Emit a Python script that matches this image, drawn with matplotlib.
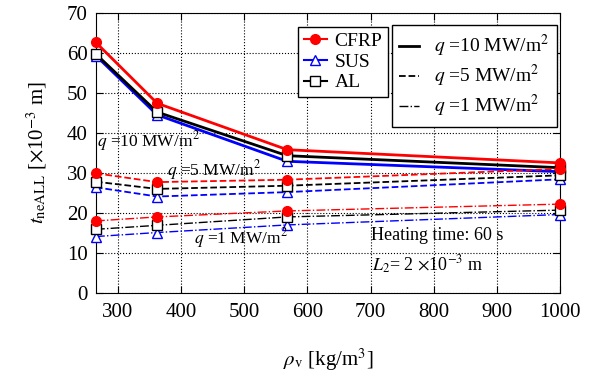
import matplotlib
matplotlib.use("Agg")
import matplotlib.pyplot as plt
from matplotlib.lines import Line2D

plt.rcParams['font.family'] = ['Liberation Serif', 'DejaVu Serif']
plt.rcParams['mathtext.fontset'] = 'stix'

# densities [kg/m3]
rho = [265, 362, 568, 1000]

# t_neALL [x1e-3 m] for each material and heat flux
cfrp_q10 = [62.6, 47.4, 35.8, 32.5]
sus_q10 = [59.3, 44.5, 32.9, 30.3]
al_q10 = [59.7, 45.2, 34.3, 31.3]

cfrp_q5 = [29.9, 27.7, 28.3, 31.0]
sus_q5 = [26.4, 24.1, 25.2, 28.4]
al_q5 = [27.8, 26.0, 26.8, 29.4]

cfrp_q1 = [18.0, 19.0, 20.5, 22.2]
sus_q1 = [14.1, 15.1, 17.0, 19.6]
al_q1 = [15.9, 16.9, 19.0, 20.7]

series = {
    'CFRP': ([cfrp_q10, cfrp_q5, cfrp_q1], 'red'),
    'SUS': ([sus_q10, sus_q5, sus_q1], 'blue'),
    'AL': ([al_q10, al_q5, al_q1], 'black'),
}
styles = [('-', 2.0), ('--', 1.3), ('-.', 1.0)]
markers = {'CFRP': dict(marker='o', markerfacecolor='red', markeredgecolor='red', markersize=7),
           'SUS': dict(marker='^', markerfacecolor='white', markeredgecolor='blue', markersize=7),
           'AL': dict(marker='s', markerfacecolor='white', markeredgecolor='black', markersize=6.5)}

fig = plt.figure(figsize=(5.92, 3.78), dpi=100)
ax = fig.add_axes([0.162, 0.225, 0.784, 0.741])

for name in ['SUS', 'AL', 'CFRP']:
    data, col = series[name]
    for vals, (ls, lw) in zip(data, styles):
        ax.plot(rho, vals, color=col, linestyle=ls, linewidth=lw, zorder=3,
                markeredgewidth=1.0, clip_on=False, **markers[name])

ax.set_xlim(265, 1000)
ax.set_ylim(0, 70)
ax.set_xticks([300, 400, 500, 600, 700, 800, 900, 1000])
ax.set_yticks(range(0, 71, 10))
ax.tick_params(direction='in', labelsize=15, length=5, top=True, right=True,
               labeltop=False, labelright=False)
ax.tick_params(axis='x', pad=7)
ax.tick_params(axis='y', pad=6)
ax.grid(True, color='black', linestyle=':', linewidth=0.8)

ax.set_xlabel(r'$\rho_{\rm v}$ [kg/m$^3$]', fontsize=15, labelpad=18)
ax.set_ylabel(r'$t_{\rm neALL}$ [$\times$10$^{-3}$ m]', fontsize=15, labelpad=13)

# annotations
ax.text(267, 36.5, r'$q$ =10 MW/m$^2$', fontsize=12.5)
ax.text(378, 29.5, r'$q$ =5 MW/m$^2$', fontsize=12.5)
ax.text(420, 12.5, r'$q$ =1 MW/m$^2$', fontsize=12.5)
ax.text(700, 13.2, 'Heating time: 60 s', fontsize=13)
ax.text(703, 5.5, r'$L_2$= 2 $\times$10$^{-3}$ m', fontsize=13)

# material legend
mat_handles = [Line2D([], [], color=series[n][1], linestyle='-', linewidth=1.5,
                      markeredgewidth=1.0, **markers[n]) for n in ['CFRP', 'SUS', 'AL']]
leg1 = ax.legend(mat_handles, ['CFRP', 'SUS', 'AL'], loc='upper left',
                 bbox_to_anchor=(0.435, 0.95), fontsize=14, frameon=True, fancybox=False,
                 edgecolor='black', framealpha=1, handlelength=1.2, handletextpad=0.4,
                 labelspacing=0.15, borderpad=0.3, borderaxespad=0)
leg1.get_frame().set_linewidth(1.0)
ax.add_artist(leg1)

q_handles = [Line2D([], [], color='black', linestyle=ls, linewidth=lw) for ls, lw in styles]
q_labels = [r'$q$ =10 MW/m$^2$', r'$q$ =5 MW/m$^2$', r'$q$ =1 MW/m$^2$']
leg2 = ax.legend(q_handles, q_labels, loc='upper left', bbox_to_anchor=(0.637, 0.955),
                 fontsize=14, frameon=True, fancybox=False, edgecolor='black', framealpha=1,
                 handlelength=1.0, handletextpad=0.8, labelspacing=0.2, borderpad=0.4,
                 borderaxespad=0)
leg2.get_frame().set_linewidth(1.0)

fig.savefig('out.png', dpi=100)
